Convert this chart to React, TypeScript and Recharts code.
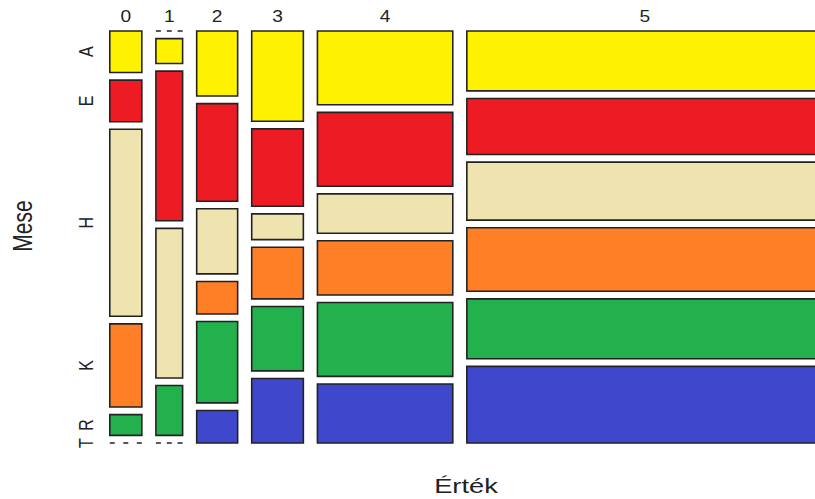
import { ComposedChart, ReferenceArea, ReferenceLine, Scatter, XAxis, YAxis } from 'recharts';

const ertekLevels = ['0', '1', '2', '3', '4', '5'];
const meseLevels = ['A', 'E', 'H', 'K', 'R', 'T'];
const meseColors = ['#FFF200', '#ED1C24', '#EFE4B0', '#FF7F27', '#22B14C', '#3F48CC'];

// Mese counts for every Érték value, in meseLevels order
const ertek0 = [2, 2, 9, 4, 1, 0];
const ertek1 = [1, 6, 6, 0, 2, 0];
const ertek2 = [4, 6, 4, 2, 5, 2];
const ertek3 = [7, 6, 2, 4, 5, 5];
const ertek4 = [15, 15, 8, 11, 15, 12];
const ertek5 = [32, 30, 31, 34, 32, 41];
const counts = [ertek0, ertek1, ertek2, ertek3, ertek4, ertek5];

// top-to-bottom stacking per column (column 1 puts its empty K cell on top)
const stackOrder = [
  [0, 1, 2, 3, 4, 5],
  [3, 0, 1, 2, 4, 5],
  [0, 1, 2, 3, 4, 5],
  [0, 1, 2, 3, 4, 5],
  [0, 1, 2, 3, 4, 5],
  [0, 1, 2, 3, 4, 5],
];

const WIDTH = 815;
const HEIGHT = 499;
const X_GAP = 7.9; // in count units
const Y_GAP = 0.0203; // share of a column's height
const Y_TOTAL = 1 + Y_GAP * (meseLevels.length - 1);
const X_DOMAIN: [number, number] = [-1, 396];
const Y_DOMAIN: [number, number] = [-0.004, Y_TOTAL + 0.004];
const PX_PER_UNIT = (WIDTH - 108) / (X_DOMAIN[1] - X_DOMAIN[0]);
const FONT = '"Liberation Sans", Arial, sans-serif';
const STRETCH = 1.3;

type Cell = { level: number; count: number; x1: number; x2: number; y1: number; y2: number };

function buildMosaic() {
  const cells: Cell[] = [];
  const centers: number[] = [];
  let x = 0;
  counts.forEach((col, ci) => {
    const total = col.reduce((a, b) => a + b, 0);
    const x1 = x;
    const x2 = x + total;
    centers.push((x1 + x2) / 2);
    let y = 0;
    stackOrder[ci].forEach((level, k) => {
      const h = col[level] / total;
      cells.push({ level, count: col[level], x1, x2, y1: y, y2: y + h });
      y += h;
      if (k < stackOrder[ci].length - 1) y += Y_GAP;
    });
    x = x2 + X_GAP;
  });
  return { cells, centers };
}

const { cells, centers } = buildMosaic();

// anchor points so both axes carry data
const cellMids = cells.map((c) => ({ cx: Math.min((c.x1 + c.x2) / 2, 390), cy: (c.y1 + c.y2) / 2 }));

// y ticks sit on the cells of the first column
const yTicks = cells
  .filter((c) => c.x1 === 0)
  .sort((a, b) => a.level - b.level)
  .map((c) => (c.y1 + c.y2) / 2);

function TopTick({ x, payload }: any) {
  const i = centers.indexOf(payload.value);
  return (
    <text
      transform={`translate(${x}, 22) scale(1.2, 1)`}
      textAnchor="middle"
      fontFamily={FONT}
      fontSize={16}
      fill="#222"
    >
      {ertekLevels[i]}
    </text>
  );
}

function LeftTick({ y, payload }: any) {
  const i = yTicks.indexOf(payload.value);
  return (
    <text
      transform={`translate(93, ${y}) scale(${STRETCH}, 1) rotate(-90)`}
      textAnchor="middle"
      fontFamily={FONT}
      fontSize={16}
      fill="#222"
    >
      {meseLevels[i]}
    </text>
  );
}

export default function App() {
  return (
    <div style={{ position: 'absolute', left: 0, top: 0, width: WIDTH, height: HEIGHT, overflow: 'hidden', background: '#fff' }}>
      <ComposedChart
        width={WIDTH}
        height={HEIGHT}
        margin={{ top: 9.5, right: 0, bottom: 54.5, left: 68 }}
      >
        <XAxis
          type="number"
          dataKey="cx"
          orientation="top"
          height={20}
          domain={X_DOMAIN}
          allowDataOverflow
          ticks={centers}
          interval={0}
          axisLine={false}
          tickLine={false}
          tick={<TopTick />}
        />
        <YAxis
          type="number"
          dataKey="cy"
          width={40}
          reversed
          domain={Y_DOMAIN}
          allowDataOverflow
          ticks={yTicks}
          interval={0}
          axisLine={false}
          tickLine={false}
          tick={<LeftTick />}
        />
        <Scatter data={cellMids} dataKey="cy" shape={() => <g />} isAnimationActive={false} />
        {cells.map((c, i) =>
          c.count > 0 ? (
            <ReferenceArea
              key={i}
              x1={c.x1}
              x2={c.x2}
              y1={c.y1}
              y2={c.y2}
              fill={meseColors[c.level]}
              fillOpacity={1}
              stroke="#222"
              strokeWidth={1.6}
              ifOverflow="hidden"
            />
          ) : (
            <ReferenceLine
              key={i}
              segment={[
                { x: c.x1, y: c.y1 },
                { x: c.x2, y: c.y1 },
              ]}
              stroke="#222"
              strokeWidth={1.5}
              strokeDasharray={`5 ${((c.x2 - c.x1) * PX_PER_UNIT - 15) / 2}`}
              ifOverflow="hidden"
            />
          )
        )}
        <text
          transform={`translate(32, 226) scale(${STRETCH}, 1) rotate(-90)`}
          textAnchor="middle"
          fontFamily={FONT}
          fontSize={21}
          fill="#222"
        >
          Mese
        </text>
        <text
          transform={`translate(466, 493) scale(${STRETCH}, 1)`}
          textAnchor="middle"
          fontFamily={FONT}
          fontSize={21}
          fill="#222"
        >
          Érték
        </text>
      </ComposedChart>
    </div>
  );
}
